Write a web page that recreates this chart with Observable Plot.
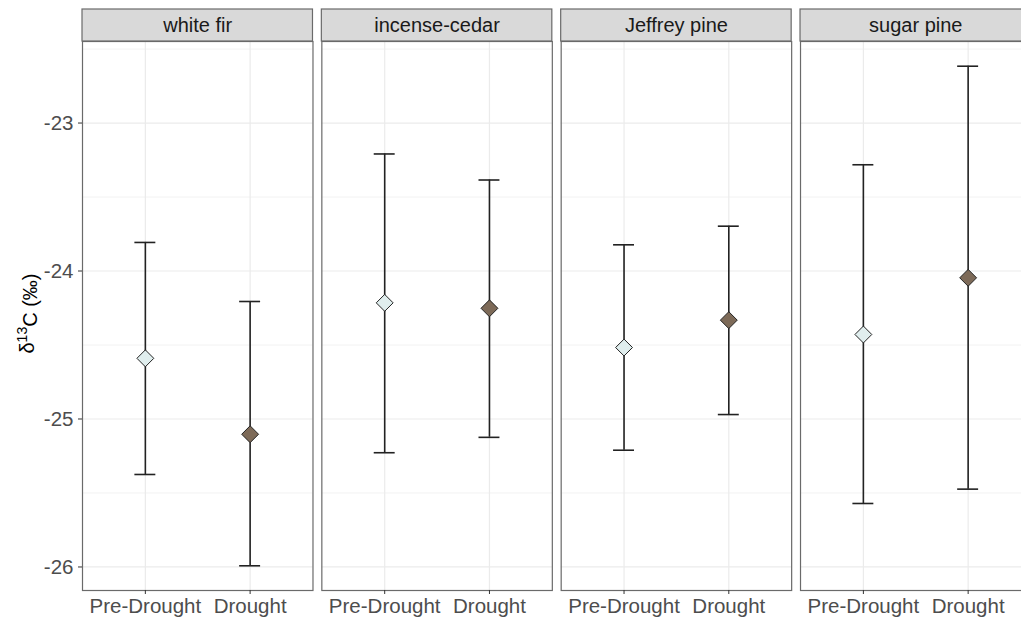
<!DOCTYPE html>
<html><head><meta charset="utf-8">
<script src="https://cdn.jsdelivr.net/npm/d3@7"></script>
<script src="https://cdn.jsdelivr.net/npm/@observablehq/plot@0.6"></script>
<style>html,body{margin:0;padding:0;background:#fff;overflow:hidden;width:1021px;height:618px;}
#chart svg{max-width:none !important;}</style>
</head><body><div id="chart"></div>
<script>
const species = ["white fir", "incense-cedar", "Jeffrey pine", "sugar pine"];
const conditions = ["Pre-Drought", "Drought"];
const preMean = [-24.59, -24.215, -24.517, -24.429];
const preLow  = [-25.375, -25.228, -25.211, -25.571];
const preHigh = [-23.807, -23.209, -23.823, -23.282];
const drMean  = [-25.103, -24.252, -24.332, -24.046];
const drLow   = [-25.992, -25.124, -24.970, -25.474];
const drHigh  = [-24.206, -23.385, -23.697, -22.616];
const majorTicks = [-26, -25, -24, -23];
const minorTicks = [-25.5, -24.5, -23.5, -22.5];
const fills = ["#e0eeee", "#7d6a58"];

const rows = [];
species.forEach((s, i) => {
  rows.push({species: s, condition: conditions[0], mean: preMean[i], low: preLow[i], high: preHigh[i]});
  rows.push({species: s, condition: conditions[1], mean: drMean[i], low: drLow[i], high: drHigh[i]});
});
const stripRows = species.map(s => ({species: s}));

const yDomain = [-26.159, -22.449];
const marginTop = 41, marginBottom = 28, height = 618, marginLeft = 82;
const pxPerUnit = (height - marginTop - marginBottom) / (yDomain[1] - yDomain[0]);
const stripTop = yDomain[1] + 32 / pxPerUnit;
const font = "'Liberation Sans', Arial, Helvetica, sans-serif";
const barColor = "#222";
const tickFont = 20.5;

const chart = Plot.plot({
  width: 1040, height, marginTop, marginBottom, marginLeft, marginRight: 9.5,
  style: {fontFamily: font, fontSize: tickFont + "px", color: "#4d4d4d", background: "#fff", maxWidth: "none"},
  fx: {domain: species, paddingInner: 0.037, paddingOuter: 0, round: false, axis: null, label: null},
  x: {type: "band", domain: conditions, paddingInner: 0.8, paddingOuter: 0.5, round: false, label: null, axis: null},
  y: {domain: yDomain, label: null, axis: null},
  color: {domain: conditions, range: fills},
  marks: [
    Plot.gridY(minorTicks, {stroke: "#efefef", strokeOpacity: 1, strokeWidth: 0.8}),
    Plot.gridY(majorTicks, {stroke: "#ebebeb", strokeOpacity: 1, strokeWidth: 1.2}),
    Plot.gridX(conditions, {stroke: "#ebebeb", strokeOpacity: 1, strokeWidth: 1.2}),
    Plot.frame({stroke: "#6a6a6a", strokeWidth: 1.2}),
    Plot.rect(stripRows, {fx: "species", y1: yDomain[1], y2: stripTop, fill: "#d9d9d9", stroke: "#6a6a6a", strokeWidth: 1.2}),
    Plot.text(stripRows, {fx: "species", text: "species", frameAnchor: "top", lineAnchor: "middle", dy: -16, fontSize: 20, fill: "#1a1a1a"}),
    Plot.ruleX(rows, {fx: "species", x: "condition", y1: "low", y2: "high", stroke: barColor, strokeWidth: 1.6}),
    Plot.tickY(rows, {fx: "species", x: "condition", y: "low", stroke: barColor, strokeWidth: 1.6}),
    Plot.tickY(rows, {fx: "species", x: "condition", y: "high", stroke: barColor, strokeWidth: 1.6}),
    Plot.dot(rows, {fx: "species", x: "condition", y: "mean", symbol: "diamond2", r: 7.6, fill: "condition", stroke: "#222", strokeWidth: 1}),
    Plot.axisY(majorTicks, {tickFormat: d => String(d), tickSize: 4, tickPadding: 5, stroke: "#333", label: null, fontSize: tickFont}),
    Plot.axisX(conditions, {tickSize: 4, tickPadding: 4, stroke: "#333", label: null, fontSize: tickFont})
  ]
});

const lab = d3.select(chart).append("text")
  .attr("transform", `translate(${marginLeft - 48},${(marginTop + height - marginBottom) / 2 - 2}) rotate(-90)`)
  .attr("text-anchor", "middle")
  .attr("fill", "#000")
  .attr("font-family", font)
  .attr("font-size", 20);
lab.append("tspan").text("δ");
lab.append("tspan").attr("dy", "-0.5em").attr("font-size", 14).text("13");
lab.append("tspan").attr("dy", "0.5em").text("C (‰)");

document.getElementById("chart").appendChild(chart);
</script>
</body></html>
